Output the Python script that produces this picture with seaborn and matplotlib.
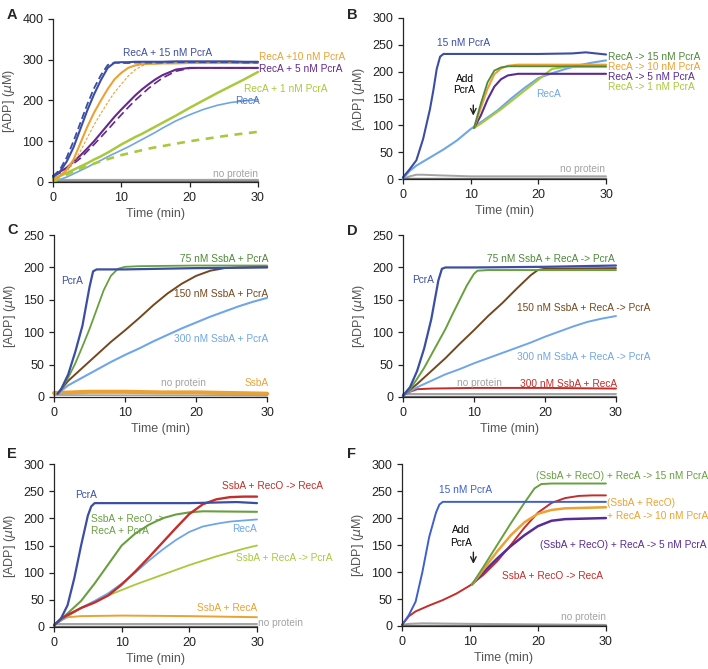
import numpy as np
import pandas as pd
import seaborn as sns
import matplotlib.pyplot as plt

sns.set_style("ticks")
plt.rcParams['font.family'] = ['Liberation Sans', 'DejaVu Sans']
plt.rcParams['mathtext.fontset'] = 'dejavusans'

# colours
BLUE = '#3b4ea3'
LBLUE = '#6fa6e6'
ORANGE = '#eba232'
PURPLE = '#65288e'
YGREEN = '#a9c93c'
DGREEN = '#4f8a3a'
GREEN = '#68a040'
BROWN = '#74481f'
RED = '#c52d2a'
GRAY = '#a3a3a3'
DGRAY = '#707070'

# ---- panel A ----
tA = [0, 1, 2, 3, 4, 5, 6, 7, 8, 9, 10, 11, 12, 13, 14, 15, 16, 18, 20, 22, 24, 26, 28, 30]
a_p15 = [12, 25, 50, 85, 130, 175, 215, 250, 280, 293, 294, 294, 295, 295, 295, 295, 295, 296, 296, 296, 296, 296, 295, 295]
a_p15_d = [14, 30, 60, 100, 145, 190, 230, 262, 287, 293, 292, 292, 293, 293, 293, 293, 293, 294, 294, 294, 294, 294, 293, 293]
a_p10 = [5, 15, 30, 55, 95, 135, 170, 200, 228, 252, 268, 280, 286, 289, 290, 290, 291, 291, 292, 292, 292, 292, 292, 292]
a_p10_d = [5, 12, 25, 48, 75, 108, 140, 168, 195, 220, 240, 260, 275, 285, 290, 291, 291, 291, 291, 291, 291, 291, 291, 291]
a_p5 = [15, 25, 35, 50, 65, 82, 100, 120, 140, 160, 178, 195, 212, 227, 240, 252, 262, 276, 280, 280, 280, 280, 280, 280]
a_p5_d = [15, 22, 32, 45, 58, 75, 92, 110, 128, 147, 165, 183, 200, 215, 230, 243, 255, 272, 279, 280, 280, 280, 280, 280]
a_p1 = [8, 15, 22, 30, 38, 46, 55, 63, 72, 82, 92, 101, 110, 118, 127, 136, 145, 163, 182, 200, 218, 235, 252, 270]
a_p1_d = [0, 10, 18, 26, 33, 39, 45, 51, 56, 61, 66, 70, 74, 78, 82, 85, 88, 94, 100, 105, 110, 115, 119, 123]
a_reca = [0, 6, 12, 20, 28, 36, 45, 53, 62, 70, 78, 86, 95, 104, 113, 122, 132, 150, 165, 178, 188, 195, 199, 202]
t_flat = [0, 30]
a_none1 = [6, 6]
a_none2 = [2, 2]

# ---- panel B ----
tB_pcra = [0, 1, 2, 3, 4, 4.5, 5, 5.5, 6, 8, 10, 15, 20, 25, 27, 30]
b_pcra = [3, 18, 35, 75, 130, 165, 205, 228, 233, 233, 233, 233, 233, 234, 236, 232]
tB_reca = [0, 1, 2, 4, 6, 8, 10, 12, 14, 16, 18, 20, 22, 24, 26, 28, 30]
b_reca = [0, 15, 25, 40, 55, 72, 93, 110, 128, 150, 170, 188, 197, 205, 212, 217, 221]
tB_add = [10.5, 11.5, 12.5, 13.5, 14.5, 15.5, 17, 20, 22, 24, 26, 28, 30]
b_to15 = [95, 140, 180, 202, 208, 210, 210, 210, 210, 210, 210, 210, 210]
b_to10 = [95, 132, 168, 195, 206, 211, 213, 213, 213, 213, 213, 213, 213]
b_to5 = [95, 118, 148, 172, 186, 193, 196, 196, 196, 196, 196, 196, 196]
b_to1 = [95, 103, 112, 121, 130, 140, 155, 185, 205, 209, 209, 209, 209]
tB_none = [0, 1, 2, 3, 5, 10, 20, 30]
b_none = [0, 5, 8, 8, 7, 5, 5, 5]

# ---- panel C ----
tC_pcra = [0.5, 1, 2, 3, 4, 4.5, 5, 5.5, 6, 10, 15, 20, 30]
c_pcra = [5, 12, 35, 70, 110, 140, 170, 194, 197, 197, 198, 199, 200]
tC_75 = [0.5, 1, 2, 3, 4, 5, 6, 7, 8, 9, 10, 12, 20, 30]
c_75 = [5, 12, 30, 52, 78, 105, 135, 165, 187, 198, 201, 202, 203, 203]
tC_150 = [0.5, 2, 4, 6, 8, 10, 12, 14, 16, 18, 20, 22, 24, 26, 30]
c_150 = [5, 25, 45, 65, 85, 103, 122, 142, 160, 175, 187, 195, 199, 200, 201]
tC_300 = [0.5, 2, 4, 6, 8, 10, 12, 14, 16, 18, 20, 22, 24, 26, 28, 30]
c_300 = [5, 18, 30, 42, 54, 65, 75, 86, 96, 106, 115, 124, 132, 140, 147, 153]
tC_ssb = [0, 5, 10, 15, 20, 25, 30]
c_ssb = [6, 8, 8, 7, 7, 6, 5]
c_none = [3, 2]

# ---- panel D ----
tD_pcra = [0, 1, 2, 3, 4, 4.5, 5, 5.5, 6, 10, 20, 30]
d_pcra = [2, 15, 40, 75, 120, 150, 180, 198, 200, 200, 201, 203]
tD_75 = [0, 1, 2, 3, 4, 5, 6, 7, 8, 9, 10, 10.5, 12, 20, 30]
d_75 = [2, 12, 28, 45, 65, 85, 105, 128, 150, 172, 190, 195, 196, 196, 196]
tD_150 = [0, 2, 4, 6, 8, 10, 12, 14, 16, 18, 19, 20, 30]
d_150 = [2, 20, 40, 60, 82, 103, 125, 145, 167, 188, 196, 198, 199]
tD_300 = [0, 2, 4, 6, 8, 10, 12, 14, 16, 18, 20, 22, 24, 26, 28, 30]
d_300 = [2, 15, 25, 35, 43, 52, 60, 68, 76, 84, 93, 101, 109, 116, 121, 125]
tD_red = [0, 1, 2, 4, 10, 20, 30]
d_red = [2, 8, 12, 13, 14, 14, 13]
d_none1 = [5, 5]
d_none2 = [2, 2]

# ---- panel E ----
tE_pcra = [0, 1, 2, 3, 4, 5, 5.5, 6, 10, 20, 27, 30]
e_pcra = [3, 15, 40, 90, 150, 205, 222, 228, 228, 228, 230, 228]
tE_grn = [0, 2, 4, 6, 8, 10, 12, 14, 16, 18, 20, 22, 30]
e_grn = [3, 25, 48, 80, 115, 150, 172, 188, 200, 207, 211, 213, 212]
tE_red = [0, 1, 2, 4, 6, 8, 10, 12, 14, 16, 18, 20, 22, 24, 26, 28, 30]
e_red = [3, 15, 22, 35, 45, 58, 78, 102, 128, 155, 182, 208, 226, 235, 239, 240, 240]
tE = [0, 2, 4, 6, 8, 10, 12, 14, 16, 18, 20, 22, 24, 26, 28, 30]
e_reca = [3, 20, 35, 48, 62, 80, 100, 122, 142, 160, 175, 185, 190, 194, 196, 198]
e_yg = [3, 20, 35, 47, 58, 68, 78, 87, 96, 105, 114, 122, 130, 137, 144, 150]
tE_org = [0, 1, 2, 4, 10, 20, 30]
e_org = [3, 12, 18, 20, 21, 20, 18]
e_none1 = [5, 5]
e_none2 = [2, 2]

# ---- panel F ----
tF_pcra = [0, 1, 2, 3, 4, 5, 5.5, 6, 10, 20, 30]
f_pcra = [2, 20, 45, 100, 165, 210, 225, 230, 230, 230, 230]
tF_red = [0, 1, 2, 4, 6, 8, 10, 12, 14, 16, 18, 20, 22, 24, 26, 28, 30]
f_red = [2, 18, 27, 38, 48, 60, 75, 95, 120, 150, 182, 210, 228, 237, 241, 242, 242]
tF_15 = [10.3, 12, 14, 16, 18, 19.5, 20.5, 22, 30]
f_15 = [77, 110, 150, 190, 228, 255, 263, 264, 264]
tF_add = [10.3, 12, 14, 16, 18, 20, 22, 24, 30]
f_10 = [77, 105, 138, 168, 192, 208, 215, 218, 220]
f_5 = [77, 100, 125, 148, 168, 185, 195, 198, 200]
tF_none = [0, 1, 3, 10, 20, 30]
f_none = [2, 4, 5, 4, 3, 2]

fig = plt.figure(figsize=(7.08, 6.69), dpi=100)

boxes = {
    'A': [0.0749, 0.728, 0.2895, 0.2436],
    'B': [0.569, 0.7324, 0.287, 0.2407],
    'C': [0.0763, 0.4066, 0.301, 0.242],
    'D': [0.569, 0.4066, 0.301, 0.242],
    'E': [0.0763, 0.0628, 0.2867, 0.2436],
    'F': [0.5678, 0.0643, 0.288, 0.242],
}
ymax = {'A': 400, 'B': 300, 'C': 250, 'D': 250, 'E': 300, 'F': 300}
ystep = {'A': 100, 'B': 50, 'C': 50, 'D': 50, 'E': 50, 'F': 50}
letter_pos = {'A': (0.010, 0.988), 'B': (0.490, 0.988), 'C': (0.010, 0.667),
              'D': (0.490, 0.665), 'E': (0.010, 0.332), 'F': (0.490, 0.332)}

axes = {}
for k, box in boxes.items():
    ax = fig.add_axes(box)
    ax.set_xlim(0, 30)
    ax.set_ylim(0, ymax[k])
    ax.set_xticks([0, 10, 20, 30])
    ax.set_yticks(np.arange(0, ymax[k] + 1, ystep[k]))
    ax.tick_params(labelsize=9, length=3.5, width=0.9, colors='#222222')
    ax.set_xlabel('Time (min)', fontsize=9, color='#555555', labelpad=3)
    ax.set_ylabel(r'[ADP] ($\mu$M)', fontsize=9, color='#555555')
    for s in ['left', 'bottom']:
        ax.spines[s].set_linewidth(0.9)
    sns.despine(ax=ax)
    fig.text(*letter_pos[k], k, fontsize=10.5, fontweight='bold', ha='left', va='top')
    axes[k] = ax


def draw(ax, t, v, color, lw=1.4, ls='-', dashes=None):
    line = sns.lineplot(x=t, y=v, ax=ax, color=color, linewidth=lw, linestyle=ls,
                        estimator=None, sort=False, clip_on=False)
    if dashes is not None:
        ax.lines[-1].set_dashes(dashes)
    return line


def note(ax, x, y, s, color, ha='left', fs=7.3):
    ax.text(x, y, s, color=color, fontsize=fs, ha=ha, va='center', clip_on=False)


# A
ax = axes['A']
draw(ax, t_flat, a_none1, GRAY, lw=1.6)
draw(ax, t_flat, a_none2, DGRAY, lw=1.0)
draw(ax, tA, a_reca, LBLUE, lw=1.2)
draw(ax, tA, a_p1_d, YGREEN, lw=1.9, dashes=(3, 2.5))
draw(ax, tA, a_p1, YGREEN, lw=1.8)
draw(ax, tA, a_p5_d, PURPLE, lw=1.2, dashes=(5, 2.5))
draw(ax, tA, a_p5, PURPLE, lw=1.5)
draw(ax, tA, a_p10_d, ORANGE, lw=0.8, dashes=(2.5, 1.5))
draw(ax, tA, a_p10, ORANGE, lw=1.5)
draw(ax, tA, a_p15_d, BLUE, lw=1.3, dashes=(4, 2))
draw(ax, tA, a_p15, BLUE, lw=1.5)
note(ax, 16.7, 316, 'RecA + 15 nM PcrA', BLUE, ha='center')
note(ax, 30.1, 306, 'RecA +10 nM PcrA', ORANGE)
note(ax, 30.1, 278, 'RecA + 5 nM PcrA', PURPLE)
note(ax, 28.0, 227, 'RecA + 1 nM PcrA', YGREEN)
note(ax, 28.5, 199, 'RecA', '#4f74c4', ha='center')
note(ax, 30.0, 20, 'no protein', GRAY, ha='right')

# B
ax = axes['B']
draw(ax, tB_none, b_none, GRAY, lw=1.4)
draw(ax, t_flat, [1, 1], DGRAY, lw=1.0)
draw(ax, tB_reca, b_reca, LBLUE, lw=1.5)
draw(ax, tB_add, b_to1, YGREEN, lw=1.5)
draw(ax, tB_add, b_to5, '#5a2b96', lw=1.5)
draw(ax, tB_add, b_to10, ORANGE, lw=1.5)
draw(ax, tB_add, b_to15, DGREEN, lw=1.3)
draw(ax, tB_pcra, b_pcra, BLUE, lw=1.5)
note(ax, 9.0, 253, '15 nM PcrA', BLUE, ha='center')
note(ax, 30.3, 228, 'RecA -> 15 nM PcrA', DGREEN)
note(ax, 30.3, 209, 'RecA -> 10 nM PcrA', ORANGE)
note(ax, 30.3, 190, 'RecA -> 5 nM PcrA', '#5a2b96')
note(ax, 30.3, 171, 'RecA -> 1 nM PcrA', YGREEN)
note(ax, 21.5, 158, 'RecA', LBLUE, ha='center')
note(ax, 9.1, 186, 'Add', 'black', ha='center')
note(ax, 9.1, 165, 'PcrA', 'black', ha='center')
ax.annotate('', xy=(10.4, 113), xytext=(10.4, 143),
            arrowprops=dict(arrowstyle='->', color='#222222', lw=1.0))
note(ax, 29.9, 19, 'no protein', GRAY, ha='right')

# C
ax = axes['C']
draw(ax, tC_ssb, c_ssb, ORANGE, lw=3.0)
draw(ax, t_flat, c_none, GRAY, lw=1.2)
draw(ax, tC_300, c_300, LBLUE, lw=1.5)
draw(ax, tC_150, c_150, BROWN, lw=1.4)
draw(ax, tC_75, c_75, GREEN, lw=1.3)
draw(ax, tC_pcra, c_pcra, BLUE, lw=1.6)
note(ax, 2.6, 179, 'PcrA', BLUE, ha='center')
note(ax, 30.2, 213, '75 nM SsbA + PcrA', DGREEN, ha='right')
note(ax, 30.2, 159, '150 nM SsbA + PcrA', BROWN, ha='right')
note(ax, 30.2, 89, '300 nM SsbA + PcrA', LBLUE, ha='right')
note(ax, 18.2, 22, 'no protein', GRAY, ha='center')
note(ax, 30.2, 22, 'SsbA', ORANGE, ha='right')

# D
ax = axes['D']
draw(ax, t_flat, d_none1, GRAY, lw=1.4)
draw(ax, t_flat, d_none2, DGRAY, lw=1.0)
draw(ax, tD_red, d_red, RED, lw=1.4)
draw(ax, tD_300, d_300, LBLUE, lw=1.4)
draw(ax, tD_150, d_150, BROWN, lw=1.4)
draw(ax, tD_75, d_75, GREEN, lw=1.4)
draw(ax, tD_pcra, d_pcra, BLUE, lw=1.6)
note(ax, 2.8, 181, 'PcrA', BLUE, ha='center')
note(ax, 29.8, 213, '75 nM SsbA + RecA -> PcrA', DGREEN, ha='right')
note(ax, 34.8, 138, '150 nM SsbA + RecA -> PcrA', BROWN, ha='right')
note(ax, 34.8, 61, '300 nM SsbA + RecA -> PcrA', LBLUE, ha='right')
note(ax, 10.75, 22, 'no protein', GRAY, ha='center')
note(ax, 30.1, 20, '300 nM SsbA + RecA', RED, ha='right')

# E
ax = axes['E']
draw(ax, t_flat, e_none1, GRAY, lw=1.4)
draw(ax, t_flat, e_none2, DGRAY, lw=1.0)
draw(ax, tE_org, e_org, ORANGE, lw=1.4)
draw(ax, tE, e_yg, YGREEN, lw=1.3)
draw(ax, tE, e_reca, LBLUE, lw=1.3)
draw(ax, tE_grn, e_grn, GREEN, lw=1.5)
draw(ax, tE_red, e_red, RED, lw=1.7)
draw(ax, tE_pcra, e_pcra, BLUE, lw=1.6)
note(ax, 4.8, 243, 'PcrA', BLUE, ha='center')
note(ax, 5.4, 199, 'SsbA + RecO ->', GREEN)
note(ax, 5.4, 177, 'RecA + PcrA', GREEN)
note(ax, 39.7, 259, 'SsbA + RecO -> RecA', RED, ha='right')
note(ax, 30.0, 180, 'RecA', LBLUE, ha='right')
note(ax, 41.1, 127, 'SsbA + RecA -> PcrA', YGREEN, ha='right')
note(ax, 30.0, 35, 'SsbA + RecA', ORANGE, ha='right')
note(ax, 30.2, 8, 'no protein', GRAY)

# F
ax = axes['F']
draw(ax, tF_none, f_none, GRAY, lw=1.4)
draw(ax, t_flat, [1, 1], DGRAY, lw=1.0)
draw(ax, tF_red, f_red, RED, lw=1.4)
draw(ax, tF_add, f_5, '#5a2b96', lw=1.8)
draw(ax, tF_add, f_10, ORANGE, lw=1.8)
draw(ax, tF_15, f_15, GREEN, lw=1.4)
draw(ax, tF_pcra, f_pcra, '#3d5fd0', lw=1.4)
note(ax, 9.3, 252, '15 nM PcrA', '#3d5fd0', ha='center')
note(ax, 19.75, 278, '(SsbA + RecO) + RecA -> 15 nM PcrA', GREEN)
note(ax, 30.2, 228, '(SsbA + RecO)', ORANGE)
note(ax, 30.2, 204, '+ RecA -> 10 nM PcrA', ORANGE)
note(ax, 44.75, 150, '(SsbA + RecO) + RecA -> 5 nM PcrA', '#5a2b96', ha='right')
note(ax, 22.2, 93, 'SsbA + RecO -> RecA', RED, ha='center')
note(ax, 8.7, 177, 'Add', 'black', ha='center')
note(ax, 8.7, 154, 'PcrA', 'black', ha='center')
ax.annotate('', xy=(10.5, 110), xytext=(10.5, 142),
            arrowprops=dict(arrowstyle='->', color='#222222', lw=1.0))
note(ax, 30.0, 17, 'no protein', GRAY, ha='right')

fig.savefig('out.png', dpi=100)
